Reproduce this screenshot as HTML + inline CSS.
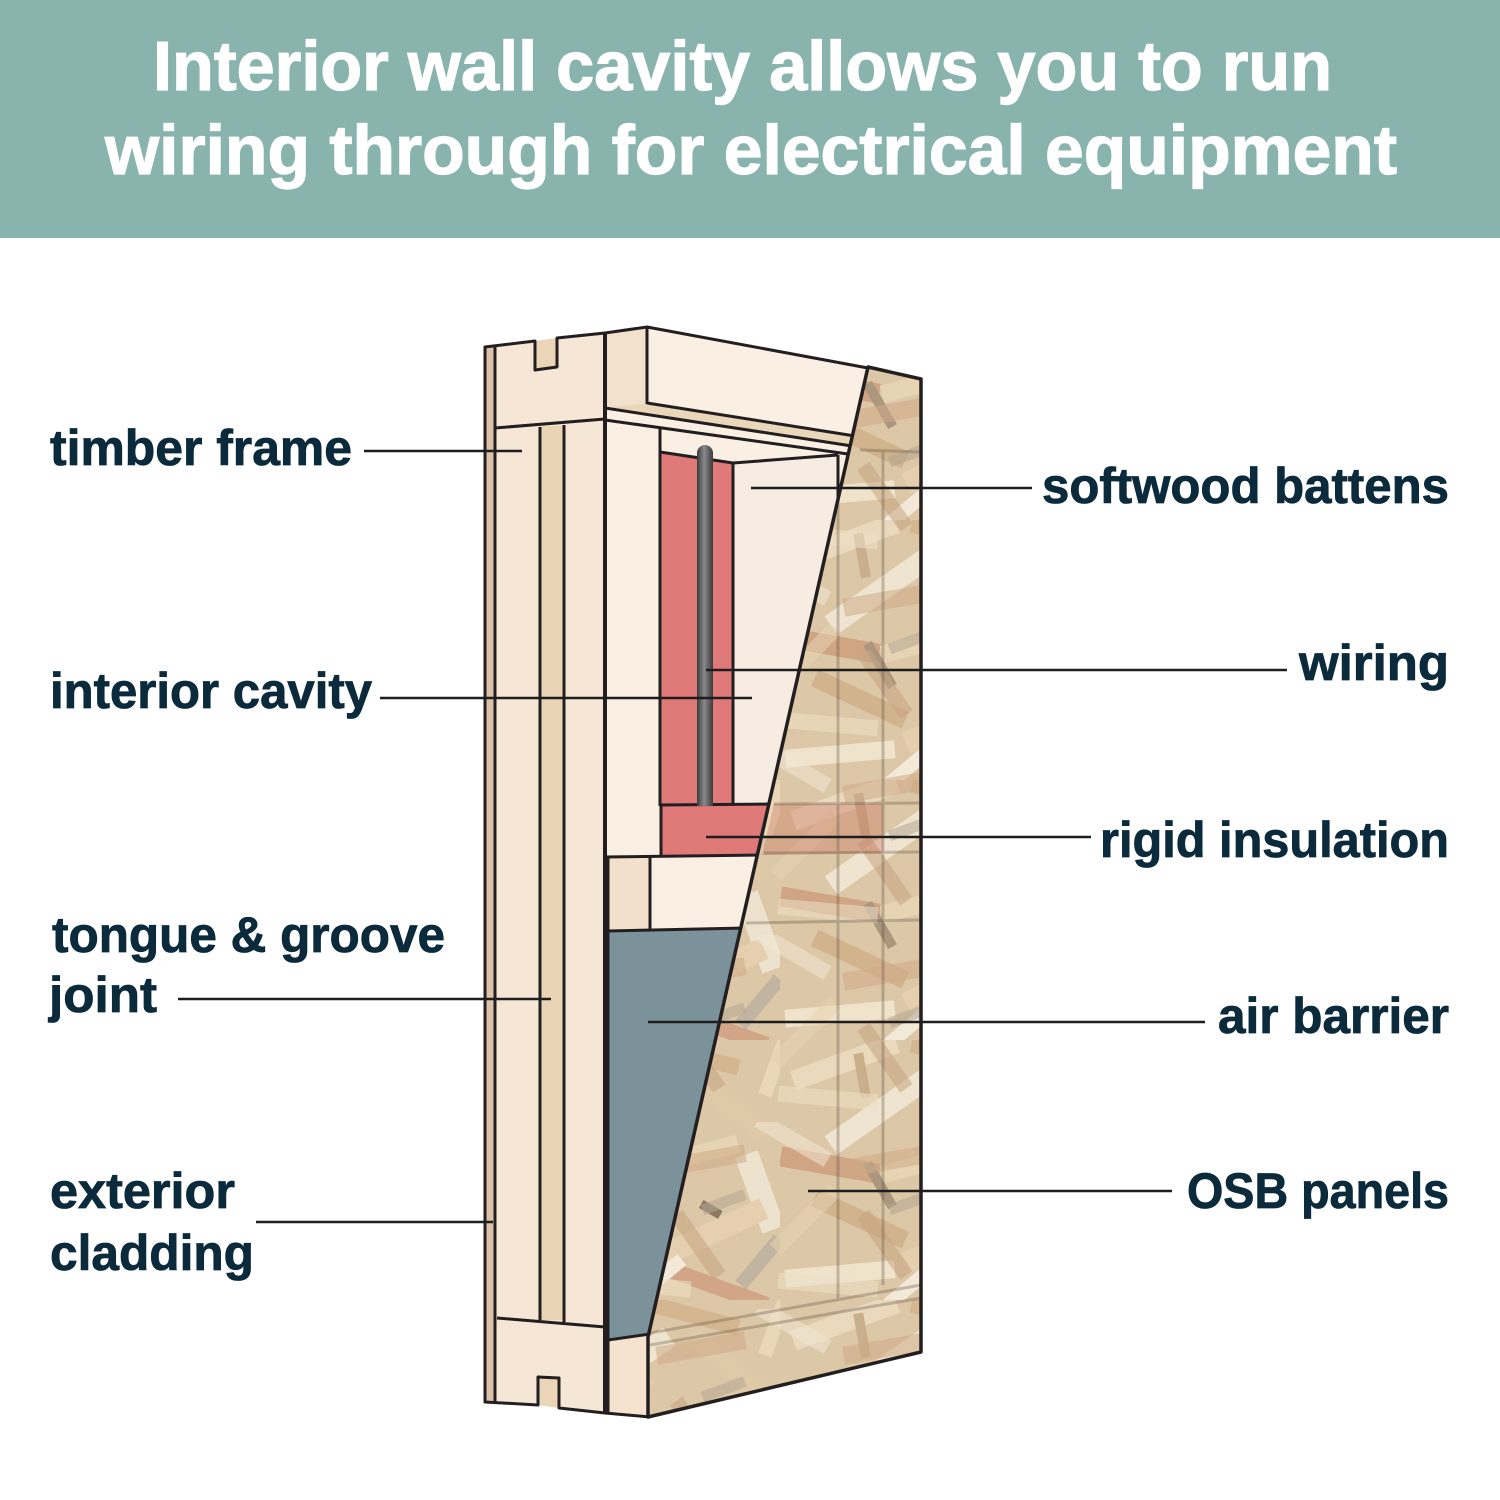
<!DOCTYPE html>
<html>
<head>
<meta charset="utf-8">
<style>
html,body{margin:0;padding:0;background:#fff;}
svg{display:block;}
text{font-family:"Liberation Sans",Arial,sans-serif;font-weight:bold;}
</style>
</head>
<body>
<svg width="1500" height="1500" viewBox="0 0 1500 1500" xmlns="http://www.w3.org/2000/svg">
<defs>
  <linearGradient id="wire" x1="0" x2="1" y1="0" y2="0">
    <stop offset="0" stop-color="#3a3a3c"/>
    <stop offset="0.45" stop-color="#8a8a8c"/>
    <stop offset="1" stop-color="#3a3a3c"/>
  </linearGradient>
  <pattern id="osbA" width="260" height="260" patternUnits="userSpaceOnUse">
    <rect width="260" height="260" fill="#d9c29f"/>
    <rect x="10" y="12" width="110" height="20" fill="#e9d8ba" transform="rotate(-20 65 22)"/>
    <rect x="130" y="8" width="90" height="16" fill="#cfae85" transform="rotate(15 175 16)"/>
    <rect x="40" y="60" width="120" height="22" fill="#efe4d0" transform="rotate(-35 100 71)"/>
    <rect x="160" y="55" width="95" height="18" fill="#dcc6a2" transform="rotate(40 207 64)"/>
    <rect x="0" y="115" width="100" height="20" fill="#c99a76" transform="rotate(10 50 125)"/>
    <rect x="100" y="110" width="120" height="18" fill="#e6d2ae" transform="rotate(-15 160 119)"/>
    <rect x="200" y="140" width="80" height="24" fill="#ede2cd" transform="rotate(70 240 152)"/>
    <rect x="30" y="170" width="100" height="18" fill="#ccab82" transform="rotate(25 80 179)"/>
    <rect x="120" y="185" width="130" height="22" fill="#e3cca8" transform="rotate(-25 185 196)"/>
    <rect x="210" y="215" width="60" height="14" fill="#b9ac98" transform="rotate(-50 240 222)"/>
    <rect x="5" y="225" width="110" height="18" fill="#efe3cb" transform="rotate(-5 60 234)"/>
    <rect x="150" y="240" width="100" height="16" fill="#cc9a78" transform="rotate(20 200 248)"/>
    <rect x="75" y="140" width="50" height="10" fill="#a08a70" transform="rotate(60 100 145)"/>
    <rect x="225" y="20" width="60" height="14" fill="#e8d5b2" transform="rotate(-70 255 27)"/>
    <rect x="60" y="30" width="45" height="10" fill="#c4a680" transform="rotate(80 82 35)"/>
    <rect x="180" y="165" width="22" height="9" fill="#7b6650" transform="rotate(30 191 169)"/>
    <rect x="100" y="235" width="70" height="14" fill="#f2eadb" transform="rotate(-40 135 242)"/>
  </pattern>
  <pattern id="osbB" width="187" height="187" patternUnits="userSpaceOnUse">
    <rect x="5" y="10" width="80" height="16" fill="#f1e7d5" transform="rotate(30 45 18)"/>
    <rect x="95" y="30" width="90" height="18" fill="#c8a27a" transform="rotate(-10 140 39)"/>
    <rect x="15" y="90" width="85" height="16" fill="#e6d0ab" transform="rotate(-45 57 98)"/>
    <rect x="100" y="115" width="75" height="15" fill="#bf9a74" transform="rotate(55 137 122)"/>
    <rect x="30" y="155" width="100" height="16" fill="#eee0c5" transform="rotate(5 80 163)"/>
    <rect x="140" y="75" width="45" height="11" fill="#aa9c88" transform="rotate(-20 162 80)"/>
  </pattern>
</defs>

<!-- Header -->
<rect x="0" y="0" width="1500" height="238" fill="#89b4ad"/>
<text x="153" y="90" font-size="70" fill="#ffffff" stroke="#ffffff" stroke-width="1.2" textLength="1179" lengthAdjust="spacingAndGlyphs">Interior wall cavity allows you to run</text>
<text x="105" y="174" font-size="70" fill="#ffffff" stroke="#ffffff" stroke-width="1.2" textLength="1292" lengthAdjust="spacingAndGlyphs">wiring through for electrical equipment</text>

<g stroke-linejoin="round">
<!-- Cladding -->
<polygon points="535,341 557,338 557,367 535,370" fill="#ead5b8"/>
<polygon points="538,1377 559,1378 559,1408 538,1405" fill="#ead5b8"/>
<path d="M485,347 L535,341 L535,370 L557,367 L557,338 L605,333 L605,1413 L559,1408 L559,1378 L538,1377 L538,1405 L485,1402 Z" fill="#f6e6d6"/>
<polygon points="485,347 495,346 495,1403 485,1402" fill="#dcc2a8"/>
<rect x="540" y="426" width="24" height="894" fill="#e9d4b6"/>
<g fill="none" stroke="#231f20" stroke-width="3">
  <path d="M485,347 L535,341 L535,370 L557,367 L557,338 L605,333 L605,1413 L559,1408 L559,1378 L538,1377 L538,1405 L485,1402 Z"/>
  <line x1="495" y1="346" x2="495" y2="1403"/>
  <line x1="495" y1="428" x2="605" y2="419"/>
  <line x1="497" y1="1318" x2="605" y2="1327"/>
  <line x1="540" y1="427" x2="540" y2="1320"/>
  <line x1="564" y1="425" x2="564" y2="1322"/>
</g>

<!-- Frame / top plate -->
<polygon points="605,333 647,327 868,368 868,860 605,860" fill="#faefe3"/>
<polygon points="605,333 647,327 647,404 605,408" fill="#f2e1cd"/>
<polygon points="647,403 855,436 852,446 605,408" fill="#ead7b9"/>
<!-- cavity -->
<polygon points="660,452 733,463 733,806 660,806" fill="#e07a79"/>
<polygon points="733,463 838,455 838,806 733,806" fill="#f6ece2"/>
<polygon points="661,804 778,804 764,856 661,857" fill="#e07a79"/>
<!-- bottom plate of cavity -->
<polygon points="608,857 764,855 746,928 608,931" fill="#faefe3"/>
<polygon points="608,857 650,857 650,930 608,931" fill="#f2e0cc"/>
<!-- air barrier -->
<polygon points="608,931 746,928 650,1334 608,1340" fill="#7b929b"/>
<!-- bottom piece -->
<polygon points="608,1340 650,1334 650,1417 608,1413" fill="#f6e3cf"/>

<g fill="none" stroke="#231f20" stroke-width="3">
  <polyline points="605,333 647,327 868,368"/>
  <line x1="647" y1="327" x2="647" y2="404"/>
  <line x1="647" y1="403" x2="855" y2="436"/>
  <line x1="605" y1="408" x2="852" y2="446"/>
  <line x1="605" y1="420" x2="848" y2="454"/>
  <line x1="660" y1="428" x2="660" y2="806"/>
  <line x1="660" y1="452" x2="733" y2="463"/>
  <line x1="733" y1="463" x2="733" y2="806"/>
  <line x1="733" y1="463" x2="838" y2="455"/>
  <line x1="838" y1="455" x2="838" y2="505"/>
  <line x1="660" y1="805" x2="778" y2="804"/>
  <line x1="661" y1="805" x2="661" y2="857"/>
  <line x1="605" y1="857" x2="764" y2="855"/>
  <line x1="608" y1="857" x2="608" y2="1413"/>
  <line x1="650" y1="857" x2="650" y2="930"/>
  <line x1="608" y1="931" x2="746" y2="928"/>
  <line x1="608" y1="1340" x2="650" y2="1334"/>
  <line x1="605" y1="1413" x2="650" y2="1417"/>
</g>
<line x1="605" y1="333" x2="605" y2="1413" stroke="#231f20" stroke-width="4"/>

<!-- wire -->
<path d="M697,453 A8,8 0 0 1 713,453 L713,806 L697,806 Z" fill="url(#wire)"/>

<!-- OSB -->
<polygon points="868,367 921,379 921,1352 648,1417 648,1337" fill="url(#osbA)"/>
<polygon points="868,367 921,379 921,1352 648,1417 648,1337" fill="url(#osbB)" opacity="0.55"/>
<polygon points="868,367 921,379 921,1352 648,1417 648,1337" fill="#efe3cf" opacity="0.15"/>
<polygon points="774,804 883,804 883,853 762,855" fill="#c8604f" opacity="0.3"/>
<g stroke="#5a4a3a" stroke-width="3" opacity="0.3" fill="none">
  <line x1="838" y1="500" x2="838" y2="1300"/>
  <line x1="883" y1="450" x2="883" y2="1285"/>
  <line x1="860" y1="450" x2="921" y2="452"/>
  <line x1="774" y1="804" x2="921" y2="803"/>
  <line x1="764" y1="853" x2="921" y2="852"/>
  <line x1="746" y1="923" x2="921" y2="920"/>
  <line x1="650" y1="1333" x2="921" y2="1285"/>
  <line x1="650" y1="1345" x2="921" y2="1298"/>
</g>
<polygon points="868,367 921,379 921,1352 648,1417 648,1337" fill="none" stroke="#231f20" stroke-width="3.5"/>
</g>

<!-- Leader lines -->
<g stroke="#1e1e1e" stroke-width="2.5">
  <line x1="364" y1="451" x2="522" y2="451"/>
  <line x1="380" y1="698" x2="752" y2="698"/>
  <line x1="178" y1="999" x2="551" y2="999"/>
  <line x1="256" y1="1222" x2="493" y2="1222"/>
  <line x1="751" y1="488" x2="1032" y2="488"/>
  <line x1="706" y1="670" x2="1287" y2="670"/>
  <line x1="706" y1="837" x2="1091" y2="837"/>
  <line x1="648" y1="1022" x2="1205" y2="1022"/>
  <line x1="808" y1="1191" x2="1172" y2="1191"/>
</g>

<!-- Labels -->
<g fill="#0b2a3c" stroke="#0b2a3c" stroke-width="0.8" font-size="50">
  <text x="50" y="465" textLength="302" lengthAdjust="spacingAndGlyphs">timber frame</text>
  <text x="50" y="708" textLength="322" lengthAdjust="spacingAndGlyphs">interior cavity</text>
  <text x="52" y="952" textLength="393" lengthAdjust="spacingAndGlyphs">tongue &amp; groove</text>
  <text x="49" y="1012" textLength="108" lengthAdjust="spacingAndGlyphs">joint</text>
  <text x="50" y="1208" textLength="185" lengthAdjust="spacingAndGlyphs">exterior</text>
  <text x="50" y="1270" textLength="204" lengthAdjust="spacingAndGlyphs">cladding</text>
  <text x="1042" y="503" textLength="407" lengthAdjust="spacingAndGlyphs">softwood battens</text>
  <text x="1299" y="680" textLength="150" lengthAdjust="spacingAndGlyphs">wiring</text>
  <text x="1100" y="857" textLength="349" lengthAdjust="spacingAndGlyphs">rigid insulation</text>
  <text x="1218" y="1033" textLength="231" lengthAdjust="spacingAndGlyphs">air barrier</text>
  <text x="1187" y="1208" textLength="262" lengthAdjust="spacingAndGlyphs">OSB panels</text>
</g>
</svg>
</body>
</html>
